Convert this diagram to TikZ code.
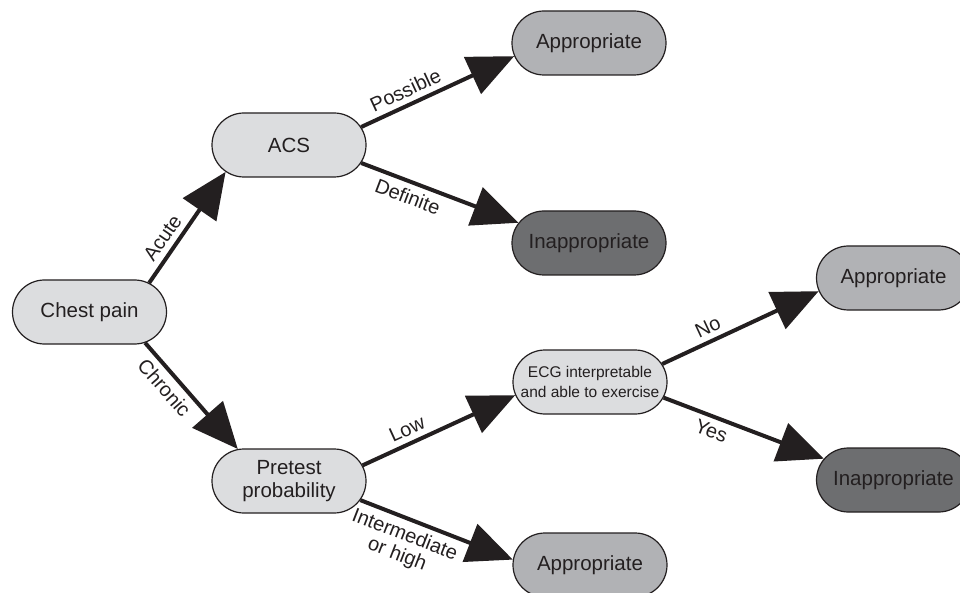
\documentclass[tikz,border=0pt]{standalone}
\usepackage{fontspec}
\setmainfont{Liberation Sans}
\usetikzlibrary{shapes.misc,arrows.meta}
\definecolor{ink}{RGB}{35,31,32}
\definecolor{qgray}{RGB}{220,221,223}
\definecolor{appgray}{RGB}{177,178,181}
\definecolor{inappgray}{RGB}{109,110,112}

\begin{document}
\begin{tikzpicture}[x=1pt,y=-1pt,
		pill/.style={draw=ink, line width=1.2pt, rounded rectangle, minimum width=154pt, minimum height=64pt, inner sep=0pt, align=center, text=ink, font=\fontsize{20.5}{23}\selectfont},
		question/.style={pill, fill=qgray},
		okay/.style={pill, fill=appgray},
		notokay/.style={pill, fill=inappgray},
		branch/.style={draw=ink, line width=4pt, -{Triangle[length=46pt,width=40pt]}},
		tag/.style={pos=0.33, sloped, inner sep=5.5pt, text=ink, font=\fontsize{20}{21}\selectfont}]
		\useasboundingbox (0,0) rectangle (960,593);
		\clip (0,0) rectangle (960,593);

		\node (chest)[question] at (89.5,312)   {Chest pain};
		\node (acs)[question] at (289,145)   {ACS};
		\node (pretest)[question] at (289,481)   {Pretest\\probability};

		\node (appA)[okay] at (589,43)   {Appropriate};
		\node (inappA)[notokay] at (589,243)   {Inappropriate};
		\node (ecg)[question, font=\fontsize{15.5}{20}\selectfont] at (590,382)   {ECG interpretable\\and able to exercise};
		\node (appC)[okay] at (590,565)   {Appropriate};

		\node (appB)[okay] at (893.5,278)   {Appropriate};
		\node (inappB)[notokay] at (893.5,480)   {Inappropriate};

		\draw [branch](chest.26) -- (acs.203) node[tag, above] {Acute};
		\draw [branch](chest.-29) -- (pretest.148) node[tag, below] {Chronic};

		\draw [branch](acs.14) -- (appA.190) node[tag, above] {Possible};
		\draw [branch](acs.-14) -- (inappA.164) node[tag, below] {Definite};

		\draw [branch](pretest.12) -- (ecg.190) node[tag, above] {Low};
		\draw [branch](pretest.-15) -- (appC.176) node[tag, below, align=center] {Intermediate\\or high};

		\draw [branch](ecg.14) -- (appB.190) node[tag, above] {No};
		\draw [branch](ecg.-12) -- (inappB.163) node[tag, below] {Yes};
	\end{tikzpicture}
\end{document}
